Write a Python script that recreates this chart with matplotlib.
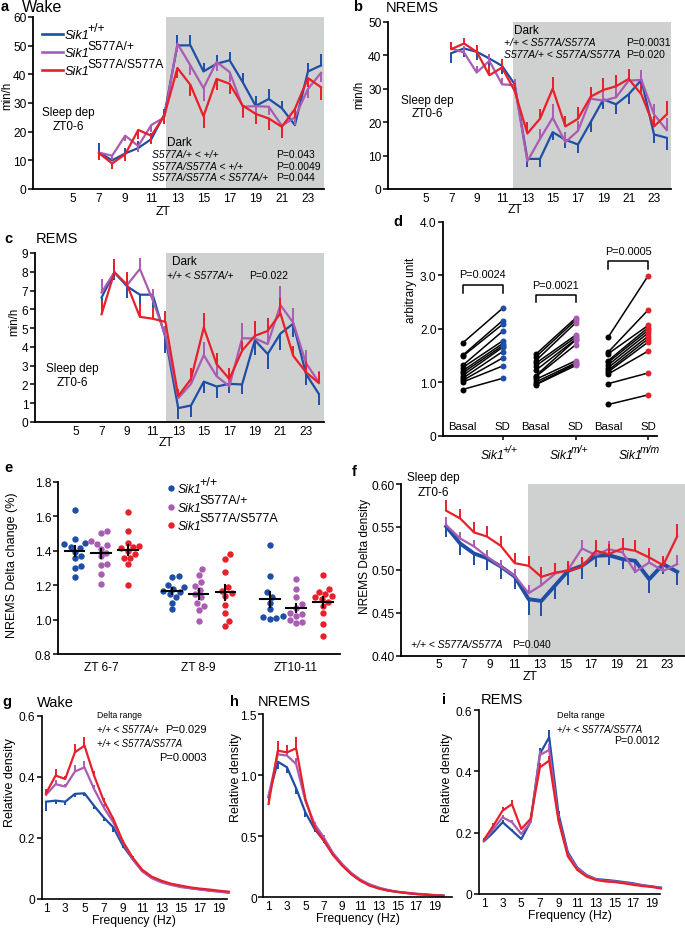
import numpy as np
import matplotlib
matplotlib.use('Agg')
import matplotlib.pyplot as plt
from matplotlib.lines import Line2D

plt.rcParams['font.family'] = ['Liberation Sans', 'DejaVu Sans']
plt.rcParams['mathtext.fontset'] = 'custom'
plt.rcParams['mathtext.rm'] = 'Liberation Sans'
plt.rcParams['mathtext.it'] = 'Liberation Sans:italic'
plt.rcParams['mathtext.bf'] = 'Liberation Sans:bold'
plt.rcParams['mathtext.sf'] = 'Liberation Sans'

W, H = 685, 929
BLUE = '#1f4ea6'
PURPLE = '#a95cb2'
RED = '#e8202a'
GRAY = '#cfd0d0'

# ---------------- data ----------------
zt = [7, 8, 9, 10, 11, 12, 13, 14, 15, 16, 17, 18, 19, 20, 21, 22, 23, 24]
gene = 'Sik1'
genotype_sup = ['+/+', 'S577A/+', 'S577A/S577A']

wake_wt = [12.7, 10.0, 12.4, 14.3, 17.4, 26.0, 50.1, 50.1, 41.0, 43.7, 44.9, 37.3, 29.0, 31.4, 28.2, 22.3, 41.0, 43.1]
wake_het = [12.7, 11.6, 18.6, 15.0, 22.3, 25.0, 50.7, 43.1, 35.2, 44.3, 40.8, 28.7, 28.9, 28.7, 22.1, 25.0, 34.9, 40.5]
wake_hom = [12.5, 8.9, 12.1, 20.6, 18.6, 25.6, 42.2, 36.3, 25.4, 38.4, 36.7, 29.1, 26.2, 24.6, 21.7, 27.9, 38.7, 35.5]
wake_wt_err = [3.5, 2.0, 2.0, 2.5, 2.0, 2.0, 3.5, 3.5, 3.0, 3.0, 3.0, 3.0, 3.5, 3.5, 2.5, 2.5, 3.0, 4.0]
wake_het_err = [2.0, 1.5, 2.0, 2.0, 2.5, 2.0, 3.0, 3.5, 4.5, 3.0, 3.5, 4.0, 3.0, 3.0, 2.5, 2.5, 3.0, 3.0]
wake_hom_err = [2.5, 2.0, 2.5, 3.0, 3.0, 3.0, 3.5, 4.0, 4.0, 4.0, 3.5, 4.0, 3.5, 4.0, 4.0, 3.0, 3.0, 4.5]

nrem_wt = [40.6, 42.0, 41.0, 39.0, 36.8, 31.3, 9.0, 9.0, 17.0, 14.7, 13.3, 20.0, 26.8, 25.3, 28.3, 32.6, 16.3, 15.3]
nrem_het = [42.0, 40.8, 34.8, 38.3, 31.3, 31.0, 8.3, 15.0, 21.3, 14.0, 17.4, 27.0, 26.4, 27.4, 32.4, 32.6, 22.3, 17.6]
nrem_hom = [41.8, 43.5, 41.0, 34.0, 36.3, 29.3, 16.6, 21.0, 30.0, 18.7, 21.0, 27.6, 29.6, 30.7, 32.9, 28.3, 18.7, 22.3]
nrem_wt_err = [2.8, 2.5, 2.5, 2.5, 2.5, 2.0, 2.5, 2.5, 2.5, 2.5, 2.5, 3.0, 3.0, 3.0, 3.0, 2.5, 2.5, 3.5]
nrem_het_err = [2.0, 2.0, 2.0, 2.0, 2.0, 2.0, 2.5, 3.0, 4.0, 3.0, 3.0, 3.0, 3.0, 3.0, 3.0, 3.0, 3.0, 3.5]
nrem_hom_err = [2.0, 1.5, 2.0, 3.0, 2.5, 2.5, 3.5, 3.0, 3.5, 3.0, 3.5, 3.0, 3.5, 3.5, 3.0, 3.0, 3.0, 4.0]

rem_wt = [6.63, 7.97, 7.22, 6.78, 6.78, 4.5, 0.74, 0.88, 2.15, 1.89, 2.03, 2.0, 4.36, 3.62, 4.71, 5.24, 2.56, 1.5]
rem_het = [6.9, 7.97, 7.3, 8.15, 6.5, 4.6, 1.27, 2.03, 3.56, 2.44, 1.9, 4.46, 4.45, 4.15, 6.23, 5.29, 3.14, 2.12]
rem_hom = [5.74, 7.97, 7.3, 5.6, 5.5, 5.33, 1.38, 2.29, 5.03, 3.09, 2.29, 3.8, 4.59, 4.85, 5.79, 3.53, 2.65, 2.08]
rem_wt_err = [0.5, 0.4, 0.6, 0.6, 0.7, 0.8, 0.6, 0.6, 0.6, 0.6, 0.5, 0.5, 0.8, 0.8, 0.9, 0.7, 0.6, 0.6]
rem_het_err = [0.7, 0.5, 0.6, 0.6, 0.6, 0.5, 0.4, 0.5, 0.7, 0.6, 0.5, 0.8, 0.8, 0.9, 1.0, 0.8, 0.7, 0.6]
rem_hom_err = [0.7, 0.7, 0.7, 0.7, 0.6, 0.6, 0.4, 0.6, 0.8, 0.6, 0.6, 0.5, 0.8, 0.7, 0.8, 0.5, 0.6, 0.6]

# panel d: basal vs SD
d_group_sup = ['+/+', 'm/+', 'm/m']
d_basal_wt = [1.73, 1.50, 1.48, 1.31, 1.27, 1.21, 1.17, 1.12, 1.07, 1.03, 1.00, 0.86]
d_sd_wt = [2.38, 2.15, 2.08, 1.95, 1.77, 1.72, 1.68, 1.65, 1.57, 1.45, 1.30, 1.07]
d_basal_het = [1.52, 1.47, 1.40, 1.35, 1.30, 1.22, 1.12, 1.10, 1.05, 1.00, 0.96, 0.95]
d_sd_het = [2.20, 2.16, 2.11, 1.88, 1.84, 1.80, 1.79, 1.70, 1.40, 1.36, 1.34, 1.31]
d_basal_hom = [1.84, 1.56, 1.53, 1.40, 1.37, 1.32, 1.27, 1.22, 1.19, 1.15, 0.97, 0.58]
d_sd_hom = [2.99, 2.35, 2.06, 2.02, 1.97, 1.92, 1.86, 1.81, 1.75, 1.58, 1.17, 0.76]
d_pvals = ['P=0.0024', 'P=0.0021', 'P=0.0005']

# panel e: NREMS delta change
e_groups = ['ZT 6-7', 'ZT 8-9', 'ZT10-11']
e_wt = [[1.637, 1.467, 1.443, 1.437, 1.422, 1.418, 1.393, 1.366, 1.356, 1.308, 1.302, 1.244],
        [1.25, 1.244, 1.201, 1.186, 1.176, 1.166, 1.157, 1.147, 1.128, 1.098, 1.06],
        [1.432, 1.253, 1.157, 1.133, 1.098, 1.06, 1.021, 1.015, 1.007, 1.005]]
e_het = [[1.511, 1.50, 1.457, 1.441, 1.432, 1.412, 1.389, 1.366, 1.321, 1.315, 1.267, 1.209],
         [1.292, 1.259, 1.215, 1.195, 1.172, 1.147, 1.128, 1.098, 1.079, 1.056, 0.992],
         [1.234, 1.176, 1.128, 1.089, 1.069, 1.04, 1.031, 1.021, 0.996, 0.986, 0.978]]
e_hom = [[1.626, 1.511, 1.447, 1.428, 1.422, 1.414, 1.395, 1.383, 1.36, 1.356, 1.321, 1.201],
         [1.379, 1.354, 1.278, 1.186, 1.166, 1.153, 1.137, 1.085, 1.04, 0.992, 0.963],
         [1.259, 1.176, 1.161, 1.147, 1.137, 1.128, 1.118, 1.104, 1.079, 1.04, 0.972, 0.905]]

# panel f: NREMS delta density
f_zt = [5.6, 6.7, 7.8, 8.8, 9.9, 11.0, 12.1, 13.1, 14.2, 15.2, 16.3, 17.4, 18.4, 19.5, 20.5, 21.6, 22.7, 23.8]
f_wt = [0.5506, 0.5307, 0.519, 0.5136, 0.5039, 0.4922, 0.4658, 0.4638, 0.4821, 0.4988, 0.5047, 0.5163, 0.5171, 0.5125, 0.5105, 0.4891, 0.5066, 0.4977]
f_het = [0.5521, 0.5366, 0.5272, 0.5156, 0.5039, 0.493, 0.4728, 0.4821, 0.4957, 0.50, 0.5249, 0.5171, 0.5241, 0.5202, 0.4977, 0.5086, 0.4988, 0.5066]
f_hom = [0.5689, 0.5599, 0.5436, 0.5389, 0.528, 0.5078, 0.5047, 0.4918, 0.4969, 0.4988, 0.5035, 0.5222, 0.5183, 0.5249, 0.5222, 0.5144, 0.5054, 0.5389]
f_wt_err = [0.012, 0.013, 0.013, 0.014, 0.015, 0.015, 0.018, 0.017, 0.016, 0.016, 0.015, 0.013, 0.012, 0.012, 0.014, 0.016, 0.012, 0.015]
f_het_err = [0.009, 0.008, 0.008, 0.008, 0.008, 0.008, 0.009, 0.009, 0.009, 0.009, 0.01, 0.009, 0.009, 0.009, 0.009, 0.009, 0.009, 0.011]
f_hom_err = [0.012, 0.011, 0.012, 0.012, 0.012, 0.012, 0.012, 0.012, 0.011, 0.011, 0.011, 0.012, 0.012, 0.012, 0.012, 0.011, 0.011, 0.015]

# spectra
freq = [1, 2, 3, 4, 5, 6, 7, 8, 9, 10, 11, 12, 13, 14, 15, 16, 17, 18, 19, 20]
g_wt = [0.3185, 0.322, 0.3185, 0.344, 0.346, 0.305, 0.267, 0.2345, 0.1745, 0.131, 0.093, 0.071, 0.058, 0.048, 0.041, 0.036, 0.032, 0.028, 0.025, 0.022]
g_het = [0.341, 0.376, 0.368, 0.417, 0.431, 0.36, 0.30, 0.251, 0.185, 0.131, 0.0905, 0.068, 0.0545, 0.046, 0.039, 0.035, 0.031, 0.027, 0.024, 0.020]
g_hom = [0.346, 0.404, 0.393, 0.48, 0.502, 0.404, 0.322, 0.262, 0.188, 0.136, 0.096, 0.073, 0.06, 0.050, 0.044, 0.038, 0.034, 0.031, 0.027, 0.024]
g_wt_err = [0.03, 0.012, 0.01, 0.01, 0.01, 0.012, 0.012, 0.015, 0.006, 0.004, 0.003, 0.002, 0.002, 0.002, 0.002, 0.002, 0.002, 0.002, 0.002, 0.002]
g_het_err = [0.01, 0.012, 0.01, 0.02, 0.02, 0.012, 0.01, 0.008, 0.006, 0.004, 0.003, 0.002, 0.002, 0.002, 0.002, 0.002, 0.002, 0.002, 0.002, 0.002]
g_hom_err = [0.015, 0.02, 0.01, 0.027, 0.027, 0.015, 0.01, 0.008, 0.006, 0.004, 0.003, 0.002, 0.002, 0.002, 0.002, 0.002, 0.002, 0.002, 0.002, 0.002]

h_wt = [0.82, 1.110, 1.064, 0.892, 0.695, 0.559, 0.464, 0.355, 0.265, 0.191, 0.136, 0.101, 0.074, 0.055, 0.044, 0.035, 0.027, 0.022, 0.016, 0.014]
h_het = [0.83, 1.17, 1.16, 1.09, 0.79, 0.60, 0.49, 0.363, 0.273, 0.199, 0.144, 0.106, 0.079, 0.060, 0.046, 0.038, 0.030, 0.025, 0.019, 0.014]
h_hom = [0.764, 1.20, 1.186, 1.219, 0.805, 0.573, 0.464, 0.346, 0.259, 0.188, 0.134, 0.095, 0.071, 0.055, 0.044, 0.035, 0.027, 0.022, 0.016, 0.014]
h_wt_err = [0.06, 0.06, 0.05, 0.05, 0.04, 0.025, 0.02, 0.01, 0.008, 0.005, 0.004, 0.003, 0.002, 0.002, 0.002, 0.002, 0.002, 0.002, 0.002, 0.002]
h_het_err = [0.03, 0.04, 0.04, 0.05, 0.03, 0.02, 0.02, 0.01, 0.008, 0.005, 0.004, 0.003, 0.002, 0.002, 0.002, 0.002, 0.002, 0.002, 0.002, 0.002]
h_hom_err = [0.04, 0.08, 0.06, 0.09, 0.03, 0.02, 0.015, 0.01, 0.008, 0.005, 0.004, 0.003, 0.002, 0.002, 0.002, 0.002, 0.002, 0.002, 0.002, 0.002]

i_wt = [0.172, 0.201, 0.234, 0.207, 0.179, 0.236, 0.457, 0.511, 0.261, 0.136, 0.087, 0.062, 0.049, 0.046, 0.043, 0.039, 0.035, 0.029, 0.025, 0.021]
i_het = [0.174, 0.212, 0.25, 0.234, 0.196, 0.234, 0.453, 0.47, 0.245, 0.13, 0.085, 0.06, 0.048, 0.043, 0.041, 0.037, 0.033, 0.028, 0.024, 0.020]
i_hom = [0.177, 0.223, 0.272, 0.293, 0.212, 0.245, 0.413, 0.435, 0.239, 0.123, 0.079, 0.057, 0.046, 0.041, 0.039, 0.035, 0.030, 0.026, 0.023, 0.018]
i_wt_err = [0.005, 0.006, 0.008, 0.006, 0.006, 0.008, 0.02, 0.025, 0.01, 0.005, 0.003, 0.002, 0.002, 0.002, 0.002, 0.002, 0.002, 0.002, 0.002, 0.002]
i_het_err = [0.005, 0.006, 0.008, 0.006, 0.006, 0.008, 0.015, 0.02, 0.01, 0.005, 0.003, 0.002, 0.002, 0.002, 0.002, 0.002, 0.002, 0.002, 0.002, 0.002]
i_hom_err = [0.006, 0.008, 0.012, 0.015, 0.008, 0.008, 0.015, 0.015, 0.01, 0.005, 0.003, 0.002, 0.002, 0.002, 0.002, 0.002, 0.002, 0.002, 0.002, 0.002]

# ---------------- helpers ----------------
fig = plt.figure(figsize=(W / 100, H / 100), dpi=100)
renderer = fig.canvas.get_renderer()
TICK = 8.6
COLORS = (BLUE, PURPLE, RED)


def add_ax(l, t, r, b):
    return fig.add_axes([l / W, 1 - b / H, (r - l) / W, (b - t) / H])


def ftext(x, y, s, **kw):
    kw.setdefault('va', 'center')
    kw.setdefault('ha', 'left')
    kw.setdefault('fontsize', 8.5)
    return fig.text(x / W, 1 - y / H, s, **kw)


def sup_text(x, y, base, sup, size=9, supsize=8.5, rise=6.5, center=False, supstyle='normal'):
    """Italic base word with a large superscript; (x, y) = left (or centre) / baseline in px."""
    t = fig.text(0, 0, base, fontsize=size, style='italic', va='baseline', ha='left')
    s = fig.text(0, 0, sup, fontsize=supsize, style=supstyle, va='baseline', ha='left')
    wb = t.get_window_extent(renderer).width - 2.5
    ws = s.get_window_extent(renderer).width
    x0 = x - (wb + ws) / 2 if center else x
    t.set_position((x0 / W, 1 - y / H))
    s.set_position(((x0 + wb) / W, 1 - (y - rise) / H))


def style(ax, lw=1.3, xlen=0):
    for s in ['top', 'right']:
        ax.spines[s].set_visible(False)
    for s in ['left', 'bottom']:
        ax.spines[s].set_linewidth(lw)
    ax.tick_params(axis='y', direction='out', length=3.5, width=1.1, labelsize=TICK, pad=1.2)
    ax.tick_params(axis='x', direction='out', length=xlen, width=1.1, labelsize=TICK, pad=2)
    ax.patch.set_alpha(0)


def series(ax, x, y, e, d, color, lw=1.6, z=2):
    ax.plot(x, y, color=color, lw=lw, zorder=z, clip_on=False)
    y = np.asarray(y, float)
    e = np.asarray(e, float)
    ax.vlines(x, y, y + d * e, color=color, lw=1.4, zorder=z, clip_on=False)


def ylab(x, y, s, size=8.8):
    ftext(x, y, s, rotation=90, ha='center', va='center', fontsize=size)


def letter(x, y, s):
    ftext(x, y, s, fontweight='bold', fontsize=10.5)


# ---------------- panel a ----------------
ax = add_ax(33, 18, 324, 190)
style(ax)
ax.set_xlim(1.94, 24.23)
ax.set_ylim(0, 60)
ax.axvspan(12.12, 24.23, color=GRAY, zorder=0, lw=0)
series(ax, zt, wake_wt, wake_wt_err, 1, BLUE)
series(ax, zt, wake_het, wake_het_err, -1, PURPLE)
series(ax, zt, wake_hom, wake_hom_err, -1, RED)
ax.set_xticks(range(5, 24, 2))
ax.set_yticks(range(0, 61, 10))
for k, (c, sup) in enumerate(zip(COLORS, genotype_sup)):
    yy = 35 + 18 * k
    fig.add_artist(Line2D([42 / W, 63 / W], [1 - yy / H] * 2, color=c, lw=1.9))
    sup_text(65, yy + 4.3, gene, sup, size=9.2, supsize=8.7, rise=7.5)
letter(1, 7, 'a')
ftext(22, 8, 'Wake', fontsize=11.5)
ylab(7, 96, 'min/h', size=8.3)
ftext(68, 113, 'Sleep dep', ha='center')
ftext(68, 127, 'ZT0-6', ha='center')
ftext(167, 143, 'Dark')
ftext(152, 155, 'S577A/+ < +/+', style='italic', fontsize=7.5)
ftext(152, 167, 'S577A/S577A < +/+', style='italic', fontsize=7.5)
ftext(152, 178, 'S577A/S577A < S577A/+', style='italic', fontsize=7.5)
ftext(276, 155, 'P=0.043', fontsize=7.5)
ftext(276, 167, 'P=0.0049', fontsize=7.5)
ftext(276, 178, 'P=0.044', fontsize=7.5)
ftext(163, 212, 'ZT', ha='center', fontsize=8.8)

# ---------------- panel b ----------------
ax = add_ax(388, 22.7, 671, 190)
style(ax)
ax.set_xlim(2.0, 24.34)
ax.set_ylim(0, 50)
ax.axvspan(11.9, 24.34, color=GRAY, zorder=0, lw=0)
series(ax, zt, nrem_wt, nrem_wt_err, -1, BLUE)
series(ax, zt, nrem_het, nrem_het_err, 1, PURPLE)
series(ax, zt, nrem_hom, nrem_hom_err, 1, RED)
ax.set_xticks(range(5, 24, 2))
ax.set_yticks(range(0, 51, 10))
letter(353, 7, 'b')
ftext(386, 8, 'NREMS', fontsize=10.5)
ylab(359, 95, 'min/h', size=8.3)
ftext(427, 101, 'Sleep dep', ha='center')
ftext(427, 114, 'ZT0-6', ha='center')
ftext(514, 31, 'Dark')
ftext(504, 43, '+/+ < S577A/S577A', style='italic', fontsize=7.5)
ftext(504, 55, 'S577A/+ < S577A/S577A', style='italic', fontsize=7.5)
ftext(626, 43, 'P=0.0031', fontsize=7.5)
ftext(626, 55, 'P=0.020', fontsize=7.5)
ftext(515, 210, 'ZT', ha='center', fontsize=8.8)

# ---------------- panel c ----------------
ax = add_ax(35, 254, 324, 423)
style(ax)
ax.set_xlim(1.79, 24.41)
ax.set_ylim(0, 9)
ax.axvspan(12.04, 24.41, color=GRAY, zorder=0, lw=0)
series(ax, zt, rem_wt, rem_wt_err, -1, BLUE)
series(ax, zt, rem_het, rem_het_err, 1, PURPLE)
series(ax, zt, rem_hom, rem_hom_err, 1, RED)
ax.set_xticks(range(5, 24, 2))
ax.set_yticks(range(0, 10))
letter(4, 239, 'c')
ftext(36, 239, 'REMS', fontsize=10.5)
ylab(14, 322, 'min/h', size=8.3)
ftext(72, 369, 'Sleep dep', ha='center')
ftext(72, 383, 'ZT0-6', ha='center')
ftext(172, 262, 'Dark')
ftext(167, 276, '+/+ < S577A/+', style='italic', fontsize=7.5)
ftext(249, 276, 'P=0.022', fontsize=7.5)
ftext(166, 443, 'ZT', ha='center', fontsize=8.8)

# ---------------- panel d ----------------
ax = add_ax(443, 222.7, 657, 436.5)
style(ax)
ax.set_xlim(-0.49, 4.86)
ax.set_ylim(0, 4)
ax.set_yticks([0, 1, 2, 3, 4])
ax.set_yticklabels(['0', '1.0', '2.0', '3.0', '4.0'])
d_pos = [(0, 1), (1.83, 2.83), (3.64, 4.64)]
d_data = [(d_basal_wt, d_sd_wt, BLUE), (d_basal_het, d_sd_het, PURPLE), (d_basal_hom, d_sd_hom, RED)]
d_brk = [(2.82, 2.67), (2.62, 2.49), (3.26, 3.12)]
for (p0, p1), (b, s, c), pv, (yb, yl) in zip(d_pos, d_data, d_pvals, d_brk):
    for vb, vs in zip(b, s):
        ax.plot([p0, p1], [vb, vs], color='black', lw=1.1, zorder=2)
    ax.plot([p0] * len(b), b, 'o', color='black', ms=4.3, zorder=3, mec='none')
    ax.plot([p1] * len(s), s, 'o', color=c, ms=4.3, zorder=3, mec='none')
    ax.plot([p0, p0, p1, p1], [yl, yb, yb, yl], color='black', lw=1.1)
    ax.text((p0 + p1) / 2, yb + 0.2, pv, ha='center', va='center', fontsize=7.8)
    ax.text(p0, 0.17, 'Basal', ha='center', va='center', fontsize=8.2)
    ax.text(p1, 0.17, 'SD', ha='center', va='center', fontsize=8.2)
ax.set_xticks([p[1] for p in d_pos])
ax.set_xticklabels([])
ax.tick_params(axis='x', length=3)
for xc, sup in zip((499, 569, 639), d_group_sup):
    sup_text(xc, 459, gene, sup, size=8.8, supsize=7.5, rise=5.5, center=True, supstyle='italic')
letter(393, 222, 'd')
ylab(411, 290, 'arbitrary unit', size=8.5)

# ---------------- panel e ----------------
ax = add_ax(58, 482.7, 340, 655)
style(ax)
ax.set_xlim(-0.44, 2.45)
ax.set_ylim(0.8, 1.8)
ax.set_yticks([0.8, 1.0, 1.2, 1.4, 1.6, 1.8])
ax.set_yticklabels(['0.8', '1.0', '1.2', '1.4', '1.6', '1.8'])
ax.set_xticks([0, 1, 2])
ax.set_xticklabels(e_groups)
ax.tick_params(axis='x', pad=5)
XPX, YPX, DPX = 97.5, 172.3, 6.4


def swarm(vals):
    vals = np.asarray(vals, float)
    order = np.argsort(vals)
    placed = []
    offs = np.zeros(len(vals))
    cands = [0.0]
    for k in range(1, 40):
        cands += [k * DPX * 0.2, -k * DPX * 0.2]
    for i in order:
        ypx = vals[i] * YPX
        for c in cands:
            if all((c - px) ** 2 + (ypx - py) ** 2 >= (DPX * 0.98) ** 2 for px, py in placed):
                break
        placed.append((c, ypx))
        offs[i] = c / XPX
    return offs


for gi in range(3):
    for sets, c, off in ((e_wt, BLUE, -0.27), (e_het, PURPLE, 0.0), (e_hom, RED, 0.275)):
        v = np.asarray(sets[gi])
        xs = gi + off + swarm(v)
        ax.plot(xs, v, 'o', color=c, ms=4.6, mec='none', zorder=2)
        m = v.mean()
        se = v.std(ddof=1) / np.sqrt(len(v))
        ax.plot([gi + off - 0.1, gi + off + 0.1], [m, m], color='black', lw=1.5, zorder=3)
        ax.plot([gi + off, gi + off], [m - se, m + se], color='black', lw=1.5, zorder=3)
for k, (c, sup) in enumerate(zip(COLORS, genotype_sup)):
    yy = 489.3 + 18.2 * k
    fig.add_artist(Line2D([171 / W], [1 - yy / H], marker='o', ls='none', color=c, ms=4.6, mec='none'))
    sup_text(178, yy + 4.2, gene, sup, size=8.8, supsize=9, rise=7.5)
letter(4, 468, 'e')
ylab(12, 565, 'NREMS Delta change (%)', size=9)

# ---------------- panel f ----------------
ax = add_ax(401, 485, 685, 656.7)
style(ax)
ax.set_xlim(2.04, 24.42)
ax.set_ylim(0.40, 0.60)
ax.axvspan(12.05, 24.42, color=GRAY, zorder=0, lw=0)
series(ax, f_zt, f_wt, f_wt_err, -1, BLUE, lw=2.8)
series(ax, f_zt, f_het, f_het_err, 1, PURPLE, lw=1.6)
series(ax, f_zt, f_hom, f_hom_err, 1, RED, lw=1.6)
ax.set_xticks(range(5, 24, 2))
ax.set_yticks([0.40, 0.45, 0.50, 0.55, 0.60])
ax.set_yticklabels(['0.40', '0.45', '0.50', '0.55', '0.60'])
letter(352, 472, 'f')
ylab(365, 556, 'NREMS Delta density', size=8.6)
ftext(433, 478, 'Sleep dep', ha='center')
ftext(433, 493, 'ZT0-6', ha='center')
ftext(411, 645, '+/+ < S577A/S577A', style='italic', fontsize=7.5)
ftext(512, 645, 'P=0.040', fontsize=7.5)
ftext(530, 677, 'ZT', ha='center', fontsize=8.8)

# ---------------- panels g, h, i ----------------
spec = [
    ((41.7, 716.7, 227, 900), (0.55, 19.83), 0.6, [0, 0.2, 0.4, 0.6], ['0', '0.2', '0.4', '0.6'],
     (g_wt, g_het, g_hom), (g_wt_err, g_het_err, g_hom_err), (-1, 1, 1)),
    ((263.3, 715, 451.7, 898.3), (0.43, 20.9), 1.5, [0, 0.5, 1.0, 1.5], ['0', '0.5', '1.0', '1.5'],
     (h_wt, h_het, h_hom), (h_wt_err, h_het_err, h_hom_err), (-1, 1, 1)),
    ((479, 711, 660, 895), (0.46, 19.9), 0.6, [0, 0.2, 0.4, 0.6], ['0', '0.2', '0.4', '0.6'],
     (i_wt, i_het, i_hom), (i_wt_err, i_het_err, i_hom_err), (1, 1, 1)),
]
for box, xl, ytop, yt, ytl, ys, es, ds in spec:
    ax = add_ax(*box)
    style(ax, lw=1.2)
    ax.set_xlim(*xl)
    ax.set_ylim(0, ytop)
    ax.set_yticks(yt)
    ax.set_yticklabels(ytl)
    ax.set_xticks(range(1, 20, 2))
    for y, e, d, c in zip(ys, es, ds, COLORS):
        series(ax, freq, y, e, d, c, lw=1.6)
    ax.set_xlabel('Frequency (Hz)', fontsize=8.7, labelpad=0)

letter(2, 702, 'g')
ftext(37, 703, 'Wake', fontsize=10.5)
ylab(10, 783, 'Relative density', size=9)
ftext(97, 716, 'Delta range', fontsize=6.2)
ftext(97, 730, '+/+ < S577A/+', style='italic', fontsize=6.9)
ftext(207, 730, 'P=0.029', fontsize=8, ha='right')
ftext(97, 744, '+/+ < S577A/S577A', style='italic', fontsize=6.9)
ftext(207, 758, 'P=0.0003', fontsize=8, ha='right')

letter(230, 702, 'h')
ftext(258, 702, 'NREMS', fontsize=10.5)
ylab(236, 778, 'Relative density', size=9)

letter(442, 700, 'i')
ftext(481, 700, 'REMS', fontsize=10.5)
ylab(447, 778, 'Relative density', size=9)
ftext(557, 716, 'Delta range', fontsize=6.6)
ftext(557, 730, '+/+ < S577A/S577A', style='italic', fontsize=6.9)
ftext(614, 741, 'P=0.0012', fontsize=7.7)

fig.savefig('out.png', dpi=100)
